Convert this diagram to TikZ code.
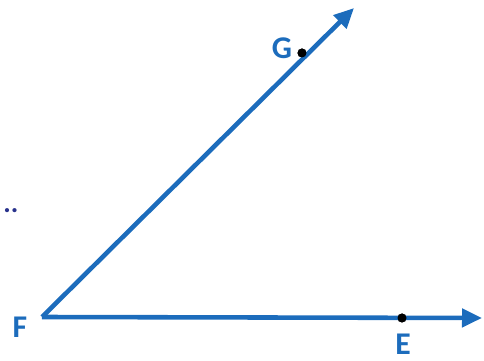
\documentclass[tikz,border=0pt]{standalone}
\usepackage{fontspec}
\setmainfont{Carlito}
\usetikzlibrary{arrows.meta}
\definecolor{rayblue}{RGB}{28,108,188}
\definecolor{dotnavy}{RGB}{40,50,140}

\begin{document}
\begin{tikzpicture}[x=0.02cm, y=-0.02cm, thick, >={Triangle[length=0.4cm, width=0.36cm]}]
        \useasboundingbox (0,0) rectangle (484,361);
        \tikzset{ray/.style={draw=rayblue, line width=2.6pt, ->},
                 pointdot/.style={circle, fill=black, inner sep=0pt, minimum size=0.18cm},
                 lbl/.style={text=rayblue, font=\fontsize{18}{20}\selectfont\bfseries, inner sep=0pt}}

        \coordinate (F) at (42,317);
        \coordinate (tipE) at (482,318);
        \coordinate (tipG) at (354,8);

        \node[pointdot] (E) at (402,318) {};
        \node[pointdot] (G) at (302,53) {};

        \draw[ray] (F) -- (tipE);
        \draw[ray] (F) -- (tipG);
        \node[pointdot] at (E) {};
        \node[pointdot] at (G) {};

        \node[lbl] (labF) at (20,327) {F};
        \node[lbl] (labG) at (282,48) {G};
        \node[lbl] (labE) at (403,344) {E};
        \node[text=dotnavy, font=\fontsize{16}{18}\selectfont\bfseries, inner sep=0pt] (dots) at (11,211) {..};
    \end{tikzpicture}
\end{document}
